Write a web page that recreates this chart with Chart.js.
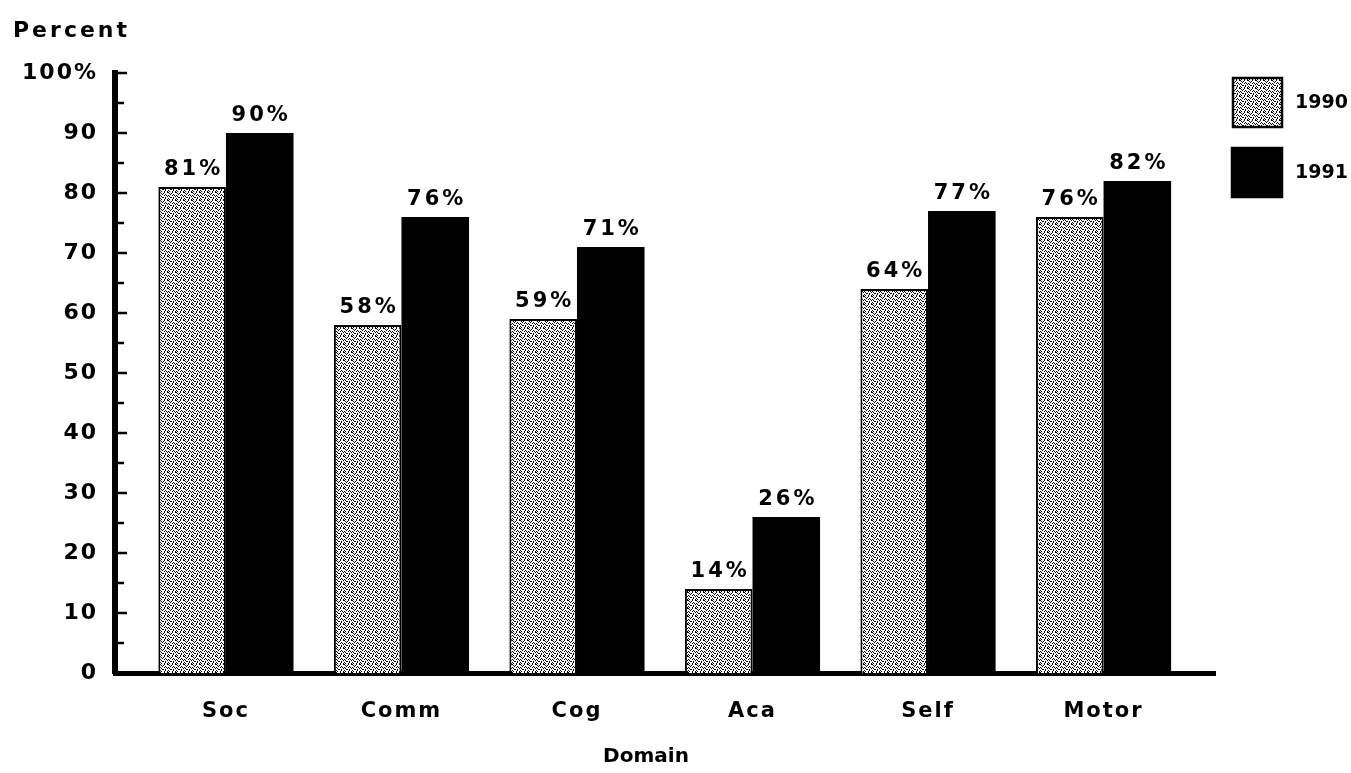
<!DOCTYPE html>
<html>
<head>
<meta charset="utf-8">
<title>Percent by Domain, 1990 and 1991</title>
<script src="https://cdn.jsdelivr.net/npm/chart.js@4.4.1/dist/chart.umd.min.js"></script>
<style>
  html, body { margin: 0; padding: 0; background: #ffffff; }
  #wrap { position: relative; width: 1351px; height: 773px; }
</style>
</head>
<body>
<div id="wrap"><canvas id="chart"></canvas></div>
<script>
// Domains along the horizontal axis
const categories = ['Soc', 'Comm', 'Cog', 'Aca', 'Self', 'Motor'];
// Series names
const seriesNames = ['1990', '1991'];
// Percent of children per domain
const values1990 = [81, 58, 59, 14, 64, 76];
const values1991 = [90, 76, 71, 26, 77, 82];
// Vertical axis
const yMin = 0;
const yMax = 100;
const yStep = 10;
const yTitle = 'Percent';
const xTitle = 'Domain';

const FONT = '"DejaVu Sans", Verdana, sans-serif';

// Stippled fill used for the 1990 bars
function makeStipple() {
  const rows = [
    'X...X..X',
    '.X.X....',
    '..X..X..',
    'X...X.X.',
    '.X.....X',
    '..XX.X..',
    'X....X..',
    '.X..X..X'
  ];
  const c = document.createElement('canvas');
  c.width = rows[0].length;
  c.height = rows.length;
  const g = c.getContext('2d');
  g.fillStyle = '#ffffff';
  g.fillRect(0, 0, c.width, c.height);
  g.fillStyle = '#000000';
  rows.forEach((r, y) => {
    for (let x = 0; x < r.length; x++) if (r[x] === 'X') g.fillRect(x, y, 1, 1);
  });
  return g.createPattern(c, 'repeat');
}
const stipple = makeStipple();

const fills = [stipple, '#000000'];

// Inward tick marks on the vertical axis (major every 10, minor every 5)
const axisTicks = {
  id: 'axisTicks',
  afterDraw(chart) {
    const y = chart.scales.y;
    const ctx = chart.ctx;
    const left = chart.chartArea.left;
    ctx.save();
    ctx.strokeStyle = '#000';
    ctx.lineWidth = 2.5;
    for (let v = yMin + yStep / 2; v <= yMax; v += yStep / 2) {
      const py = Math.round(y.getPixelForValue(v));
      const len = (v % yStep === 0) ? 12 : 9;
      ctx.beginPath();
      ctx.moveTo(left, py);
      ctx.lineTo(left + len, py);
      ctx.stroke();
    }
    ctx.restore();
  }
};

// Percent labels above each bar
const barLabels = {
  id: 'barLabels',
  afterDatasetsDraw(chart) {
    const ctx = chart.ctx;
    ctx.save();
    ctx.font = 'bold 21px ' + FONT;
    ctx.letterSpacing = '3px';
    ctx.fillStyle = '#000';
    ctx.textAlign = 'center';
    ctx.textBaseline = 'alphabetic';
    chart.data.datasets.forEach((ds, di) => {
      const meta = chart.getDatasetMeta(di);
      meta.data.forEach((bar, i) => {
        ctx.fillText(ds.data[i].y + '%', bar.x + 1.5, bar.y - 12);
      });
    });
    ctx.restore();
  }
};

// Axis titles and the legend at the right
const chrome = {
  id: 'chrome',
  beforeDraw(chart) {
    chart.ctx.letterSpacing = '2px';
  },
  afterDraw(chart) {
    const ctx = chart.ctx;
    ctx.save();
    ctx.fillStyle = '#000';
    ctx.textBaseline = 'alphabetic';

    ctx.font = 'bold 22px ' + FONT;
    ctx.letterSpacing = '3px';
    ctx.textAlign = 'left';
    ctx.fillText(yTitle, 13, 37);

    ctx.font = 'bold 20px ' + FONT;
    ctx.letterSpacing = '0px';
    ctx.textAlign = 'center';
    ctx.fillText(xTitle, 646, 762);

    // legend
    const boxes = [
      { x: 1233, y: 78, w: 49, h: 49 },
      { x: 1232, y: 148, w: 50, h: 49 }
    ];
    ctx.font = 'bold 19px ' + FONT;
    ctx.letterSpacing = '0px';
    ctx.textAlign = 'left';
    ctx.textBaseline = 'middle';
    seriesNames.forEach((name, i) => {
      const b = boxes[i];
      ctx.fillStyle = fills[i];
      ctx.fillRect(b.x, b.y, b.w, b.h);
      ctx.strokeStyle = '#000';
      ctx.lineWidth = 2.5;
      ctx.strokeRect(b.x, b.y, b.w, b.h);
      ctx.fillStyle = '#000';
      ctx.fillText(name, 1295, b.y + b.h / 2 + 1);
    });
    ctx.restore();
  }
};

const toPoints = arr => arr.map((v, i) => ({ x: i, y: v }));

new Chart(document.getElementById('chart'), {
  type: 'bar',
  data: {
    datasets: [
      {
        label: seriesNames[0],
        data: toPoints(values1990),
        backgroundColor: stipple,
        borderColor: '#000',
        borderWidth: 2,
        categoryPercentage: 0.77,
        barPercentage: 1.0
      },
      {
        label: seriesNames[1],
        data: toPoints(values1991),
        backgroundColor: '#000',
        borderWidth: 0,
        categoryPercentage: 0.77,
        barPercentage: 1.0
      }
    ]
  },
  options: {
    responsive: true,
    maintainAspectRatio: false,
    animation: false,
    devicePixelRatio: 1,
    layout: { padding: { top: 73, right: 136, bottom: 0, left: 0 } },
    plugins: {
      legend: { display: false },
      title: { display: false },
      tooltip: { enabled: false }
    },
    scales: {
      x: {
        type: 'linear',
        offset: false,
        min: -0.632,
        max: 5.635,
        afterBuildTicks: s => { s.ticks = categories.map((c, i) => ({ value: i })); },
        afterFit: s => { s.height = 100; },
        grid: { display: false, offset: false },
        border: { display: true, color: '#000', width: 5 },
        ticks: {
          autoSkip: false,
          maxRotation: 0,
          padding: 18,
          color: '#000',
          font: { family: FONT, size: 21, weight: 'bold' },
          callback: v => categories[v]
        }
      },
      y: {
        min: yMin,
        max: yMax,
        afterFit: s => { s.width = 115; },
        grid: { display: false },
        border: { display: true, color: '#000', width: 6 },
        ticks: {
          stepSize: yStep,
          padding: 9,
          color: '#000',
          font: { family: FONT, size: 22, weight: 'bold' },
          callback: v => (v === yMax ? v + '%' : v)
        }
      }
    }
  },
  plugins: [axisTicks, barLabels, chrome]
});
</script>
</body>
</html>
